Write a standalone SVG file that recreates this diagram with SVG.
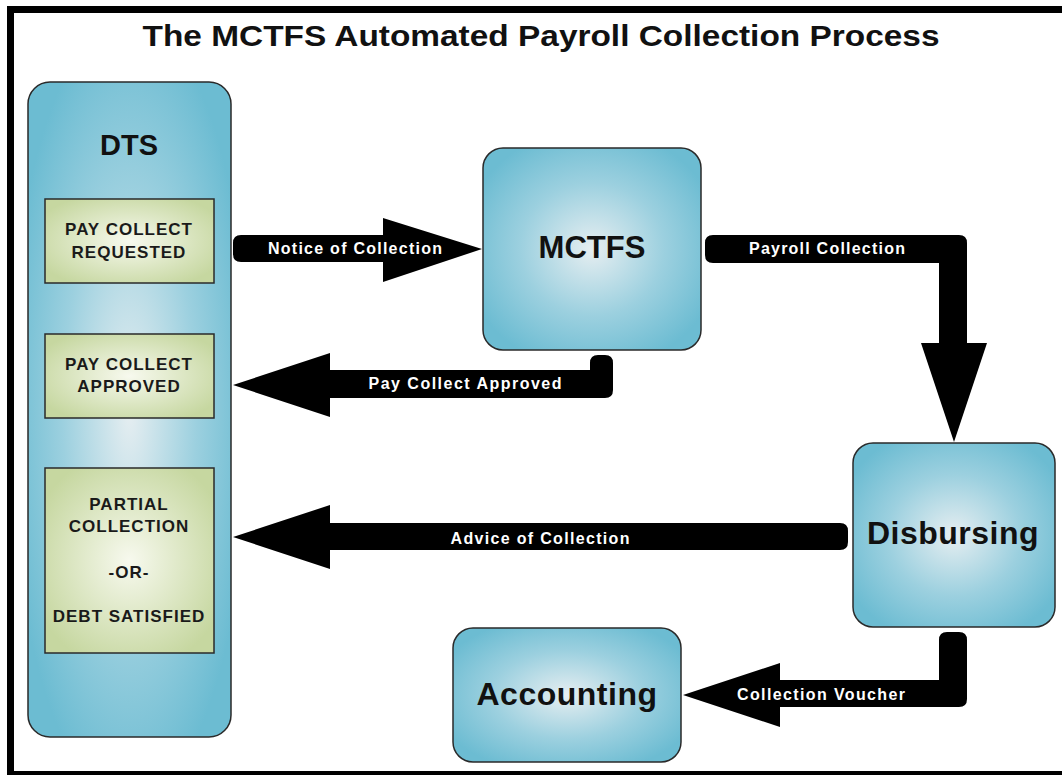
<svg xmlns="http://www.w3.org/2000/svg" width="1062" height="776" viewBox="0 0 1062 776">
<defs>
<radialGradient id="blue" cx="0.5" cy="0.5" r="0.6">
<stop offset="0" stop-color="#e6eef1"/>
<stop offset="0.55" stop-color="#9cd0df"/>
<stop offset="1" stop-color="#6cbcd2"/>
</radialGradient>
<radialGradient id="green" cx="0.5" cy="0.5" r="0.6">
<stop offset="0" stop-color="#f7f9ee"/>
<stop offset="1" stop-color="#c6d7a0"/>
</radialGradient>
<style>
.blue{fill:url(#blue);stroke:#2a2a2a;stroke-width:1.5}
.green{fill:url(#green);stroke:#2a2a2a;stroke-width:1.5}
.big{font-family:"Liberation Sans",Arial,sans-serif;font-weight:bold;fill:#111;text-anchor:middle}
.inner{font-family:"Liberation Sans",Arial,sans-serif;font-weight:bold;font-size:17px;fill:#1a1a1a;text-anchor:middle;letter-spacing:1px}
.lbl{font-family:"Liberation Sans",Arial,sans-serif;font-weight:bold;font-size:16px;fill:#fff;text-anchor:middle}
.arrow{fill:#000}
</style>
</defs>
<rect x="0" y="0" width="1062" height="776" fill="#fff"/>
<g id="frame" fill="#000">
<rect x="7" y="6" width="1055" height="7"/>
<rect x="7" y="6" width="7" height="769"/>
<rect x="7" y="771" width="1055" height="4"/>
</g>
<text class="big" x="541" y="46" font-size="30" textLength="797" lengthAdjust="spacingAndGlyphs">The MCTFS Automated Payroll Collection Process</text>

<g id="dts">
<rect class="blue" x="28" y="82" width="203" height="655" rx="22"/>
<text class="big" x="129" y="155" font-size="29">DTS</text>
</g>
<g id="pay-collect-requested">
<rect class="green" x="45" y="199" width="169" height="84"/>
<text class="inner" x="129" y="235">PAY COLLECT</text>
<text class="inner" x="129" y="258">REQUESTED</text>
</g>
<g id="pay-collect-approved">
<rect class="green" x="45" y="334" width="169" height="84"/>
<text class="inner" x="129" y="370">PAY COLLECT</text>
<text class="inner" x="129" y="392">APPROVED</text>
</g>
<g id="partial-collection">
<rect class="green" x="45" y="468" width="169" height="185"/>
<text class="inner" x="129" y="510">PARTIAL</text>
<text class="inner" x="129" y="532">COLLECTION</text>
<text class="inner" x="129" y="578">-OR-</text>
<text class="inner" x="129" y="622">DEBT SATISFIED</text>
</g>
<g id="mctfs">
<rect class="blue" x="483" y="148" width="218" height="202" rx="20"/>
<text class="big" x="592" y="258" font-size="31">MCTFS</text>
</g>
<g id="disbursing">
<rect class="blue" x="853" y="443" width="202" height="184" rx="20"/>
<text class="big" x="953" y="544" font-size="32" letter-spacing="0.5">Disbursing</text>
</g>
<g id="accounting">
<rect class="blue" x="453" y="628" width="228" height="134" rx="20"/>
<text class="big" x="567" y="705" font-size="32" letter-spacing="0.5">Accounting</text>
</g>

<g id="connectors">
<path class="arrow" d="M241 235 H383 V218 L482 249 L383 282 V262 H241 Q233 262 233 254 V243 Q233 235 241 235 Z"/>
<text class="lbl" x="355" y="254" textLength="174" lengthAdjust="spacing">Notice of Collection</text>

<path class="arrow" d="M233 385 L330 353 V370 H590 V363 Q590 355 598 355 H605 Q613 355 613 363 V390 Q613 398 605 398 H330 V417 Z"/>
<text class="lbl" x="465" y="389" textLength="193" lengthAdjust="spacing">Pay Collect Approved</text>

<path class="arrow" d="M713 235 H959 Q967 235 967 243 V343 H987 L954 442 L921 343 H939 V263 H713 Q705 263 705 255 V243 Q705 235 713 235 Z"/>
<text class="lbl" x="827" y="254" textLength="156" lengthAdjust="spacing">Payroll Collection</text>

<path class="arrow" d="M233 537 L330 505 V523 H840 Q848 523 848 531 V542 Q848 550 840 550 H330 V569 Z"/>
<text class="lbl" x="540" y="544" textLength="179" lengthAdjust="spacing">Advice of Collection</text>

<path class="arrow" d="M683 695 L780 663 V680 H939 V640 Q939 632 947 632 H959 Q967 632 967 640 V699 Q967 707 959 707 H780 V727 Z"/>
<text class="lbl" x="821" y="700" textLength="168" lengthAdjust="spacing">Collection Voucher</text>
</g>
</svg>
